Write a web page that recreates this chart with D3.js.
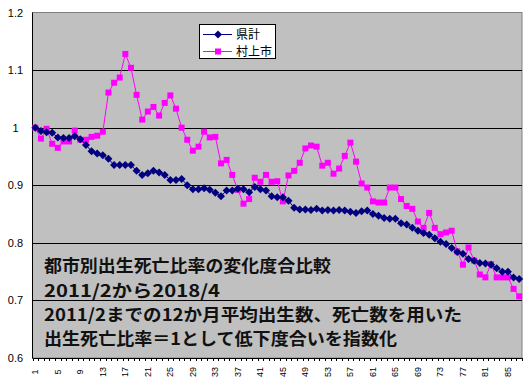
<!DOCTYPE html>
<html>
<head>
<meta charset="utf-8">
<script src="https://cdn.jsdelivr.net/npm/d3@7"></script>
<style>
  body { margin: 0; background: #fff; }
  text { font-family: "Liberation Sans", Arial, sans-serif; }
</style>
</head>
<body>
<script>
// data
var categories = d3.range(1, 88);

var kenkei = [1.000, 0.994, 0.992, 0.991, 0.983, 0.982, 0.982, 0.985, 0.980, 0.970,
    0.959, 0.955, 0.952, 0.946, 0.935, 0.935, 0.935, 0.935, 0.925, 0.918,
    0.921, 0.925, 0.922, 0.918, 0.909, 0.909, 0.911, 0.900, 0.893, 0.893,
    0.895, 0.892, 0.887, 0.881, 0.891, 0.891, 0.894, 0.893, 0.888, 0.897,
    0.893, 0.891, 0.881, 0.879, 0.879, 0.873, 0.861, 0.858, 0.858, 0.857,
    0.859, 0.856, 0.857, 0.856, 0.857, 0.856, 0.854, 0.852, 0.855, 0.856,
    0.850, 0.847, 0.843, 0.842, 0.842, 0.834, 0.832, 0.826, 0.821, 0.817,
    0.814, 0.808, 0.802, 0.798, 0.791, 0.784, 0.781, 0.772, 0.769, 0.765,
    0.764, 0.762, 0.756, 0.750, 0.750, 0.740, 0.737];

var murakami = [1.000, 0.981, 0.998, 0.972, 0.965, 0.976, 0.976, 0.995, 0.979, 0.979,
    0.984, 0.986, 0.993, 1.061, 1.078, 1.087, 1.128, 1.104, 1.057, 1.014,
    1.028, 1.036, 1.021, 1.043, 1.056, 1.033, 1.000, 0.979, 0.960, 0.967,
    0.993, 0.983, 0.984, 0.938, 0.944, 0.918, 0.892, 0.868, 0.876, 0.913,
    0.906, 0.918, 0.906, 0.907, 0.872, 0.917, 0.925, 0.939, 0.964, 0.969,
    0.967, 0.934, 0.939, 0.920, 0.929, 0.951, 0.974, 0.941, 0.903, 0.896,
    0.872, 0.870, 0.870, 0.896, 0.896, 0.876, 0.864, 0.859, 0.837, 0.826,
    0.852, 0.826, 0.815, 0.818, 0.821, 0.785, 0.762, 0.792, 0.769, 0.745,
    0.740, 0.763, 0.740, 0.740, 0.740, 0.720, 0.707];

var yTicks = [0.6, 0.7, 0.8, 0.9, 1.0, 1.1, 1.2];
var xTickLabels = [1, 5, 9, 13, 17, 21, 25, 29, 33, 37, 41, 45, 49, 53, 57, 61, 65, 69, 73, 77, 81, 85];
var seriesNames = ["県計", "村上市"];
var noteLines = [
    "都市別出生死亡比率の変化度合比較",
    "2011/2から2018/4",
    "2011/2までの12か月平均出生数、死亡数を用いた",
    "出生死亡比率＝1として低下度合いを指数化"
];

var W = 530, H = 387;
var plot = {left: 32.5, right: 522, top: 12.5, bottom: 358};

var svg = d3.select("body").append("svg")
    .attr("width", W)
    .attr("height", H);

var x = d3.scaleBand()
    .domain(categories)
    .range([plot.left, plot.right]);

var y = d3.scaleLinear()
    .domain([0.6, 1.2])
    .range([plot.bottom, plot.top]);

function cx(d, i) { return x(categories[i]) + x.bandwidth() / 2; }

// plot area
svg.append("rect")
    .attr("x", plot.left).attr("y", plot.top)
    .attr("width", plot.right - plot.left).attr("height", plot.bottom - plot.top)
    .attr("fill", "#c0c0c0")
    .attr("stroke", "#808080");

// gridlines
svg.append("g").selectAll("line")
    .data(yTicks.filter(function(t) { return t > 0.6 && t < 1.2; }))
    .enter().append("line")
    .attr("x1", plot.left).attr("x2", plot.right)
    .attr("y1", function(d) { return Math.round(y(d)) + 0.5; })
    .attr("y2", function(d) { return Math.round(y(d)) + 0.5; })
    .attr("stroke", "#000");

// annotation text
var note = svg.append("g");
var noteY = [272, 297, 321, 345];
var noteW = [287, 176, 418, 353];
note.selectAll("text")
    .data(noteLines)
    .enter().append("text")
    .attr("x", 44)
    .attr("y", function(d, i) { return noteY[i]; })
    .attr("textLength", function(d, i) { return noteW[i]; })
    .attr("lengthAdjust", "spacingAndGlyphs")
    .style("font-family", '"Noto Sans CJK JP", sans-serif')
    .style("font-weight", "bold")
    .style("font-size", "17px")
    .attr("fill", "#111")
    .text(function(d) { return d; });

// axes
var yAxis = d3.axisLeft(y).tickValues(yTicks).tickSize(0).tickPadding(0)
    .tickFormat(function(d) { return d3.format("")(+d.toFixed(1)); });
var yg = svg.append("g")
    .attr("transform", "translate(" + plot.left + ",0)")
    .call(yAxis);
yg.select(".domain").remove();
yg.selectAll("text")
    .attr("x", -17).attr("text-anchor", "middle")
    .style("font-size", "11px").attr("fill", "#000");

svg.append("line")
    .attr("x1", plot.left).attr("x2", plot.left)
    .attr("y1", plot.top).attr("y2", plot.bottom)
    .attr("stroke", "#000");

// bottom axis with tick at every category boundary
var bounds = categories.map(function(c) { return x(c); }).concat([plot.right]);
svg.append("g").selectAll("line")
    .data(bounds)
    .enter().append("line")
    .attr("x1", function(d) { return Math.round(d) + 0.5; })
    .attr("x2", function(d) { return Math.round(d) + 0.5; })
    .attr("y1", plot.bottom).attr("y2", plot.bottom + 3)
    .attr("stroke", "#000");
svg.append("line")
    .attr("x1", plot.left).attr("x2", plot.right)
    .attr("y1", plot.bottom + 0.5).attr("y2", plot.bottom + 0.5)
    .attr("stroke", "#000");

svg.append("g").selectAll("text")
    .data(xTickLabels)
    .enter().append("text")
    .attr("transform", function(d) {
        return "translate(" + (x(d) + x.bandwidth() / 2 + 3) + "," + 372 + ") rotate(-90)";
    })
    .attr("text-anchor", "middle")
    .style("font-size", "9px")
    .attr("fill", "#000")
    .text(function(d) { return d; });

// series
var line = d3.line()
    .x(cx)
    .y(function(d) { return y(d); });

svg.append("path")
    .datum(murakami)
    .attr("d", line)
    .attr("fill", "none")
    .attr("stroke", "#ff00ff")
    .attr("stroke-width", 1);

svg.append("g").selectAll("rect")
    .data(murakami)
    .enter().append("rect")
    .attr("x", function(d, i) { return cx(d, i) - 3; })
    .attr("y", function(d) { return y(d) - 3; })
    .attr("width", 6).attr("height", 6)
    .attr("fill", "#ff00ff");

svg.append("path")
    .datum(kenkei)
    .attr("d", line)
    .attr("fill", "none")
    .attr("stroke", "#000080")
    .attr("stroke-width", 1);

var diamond = "M0,-4L4,0L0,4L-4,0Z";
svg.append("g").selectAll("path")
    .data(kenkei)
    .enter().append("path")
    .attr("d", diamond)
    .attr("transform", function(d, i) { return "translate(" + cx(d, i) + "," + y(d) + ")"; })
    .attr("fill", "#000080");

// legend
var lg = svg.append("g");
lg.append("rect")
    .attr("x", 199.5).attr("y", 24.5)
    .attr("width", 76).attr("height", 34)
    .attr("fill", "#fff").attr("stroke", "#000");

var legendY = [34.5, 51.5];
var legendColor = ["#000080", "#ff00ff"];
seriesNames.forEach(function(name, i) {
    lg.append("line")
        .attr("x1", 203).attr("x2", 232)
        .attr("y1", legendY[i]).attr("y2", legendY[i])
        .attr("stroke", legendColor[i]);
    if (i === 0) {
        lg.append("path").attr("d", diamond)
            .attr("transform", "translate(218," + legendY[i] + ")")
            .attr("fill", legendColor[i]);
    } else {
        lg.append("rect")
            .attr("x", 215).attr("y", legendY[i] - 3)
            .attr("width", 6).attr("height", 6)
            .attr("fill", legendColor[i]);
    }
    lg.append("text")
        .attr("x", 236).attr("y", legendY[i] + 4.5)
        .style("font-family", '"Noto Sans CJK JP", sans-serif')
        .style("font-size", "12px")
        .attr("fill", "#000")
        .text(name);
});
</script>
</body>
</html>
